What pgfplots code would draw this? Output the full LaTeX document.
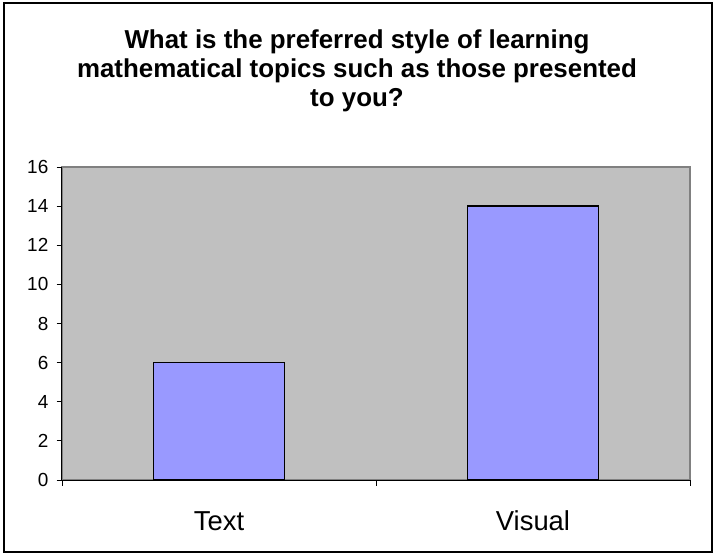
\documentclass[border=0pt]{standalone}
\usepackage{pgfplots}
\pgfplotsset{compat=1.18}
\usepackage{fontspec}
\setmainfont{Liberation Sans}
\definecolor{barblue}{HTML}{9999FF}
\definecolor{plotgray}{HTML}{C0C0C0}
\definecolor{edgegray}{HTML}{808080}
\begin{document}
\begin{tikzpicture}
\useasboundingbox (0,0) rectangle (716bp,556bp);
\draw[line width=2bp] (3.5bp,4bp) rectangle (712bp,552.5bp);
\node[font=\fontsize{26}{30}\selectfont\bfseries, anchor=base, inner sep=0pt] at (357bp,507bp) {What is the preferred style of learning};
\node[font=\fontsize{26}{30}\selectfont\bfseries, anchor=base, inner sep=0pt] at (357bp,478bp) {mathematical topics such as those presented};
\node[font=\fontsize{26}{30}\selectfont\bfseries, anchor=base, inner sep=0pt] at (357bp,449bp) {to you?};
\begin{axis}[
  at={(62bp,76bp)}, anchor=south west,
  scale only axis, width=628bp, height=313bp,
  xmin=0.5, xmax=2.5, ymin=0, ymax=16,
  ytick={0,2,...,16},
  xtick={0.5,1.5,2.5},
  xticklabels={Text,Visual},
  x tick label as interval,
  axis lines*=left,
  axis line style={-, line width=1bp, black},
  tick align=outside,
  major tick length=5.5bp,
  tick style={black, line width=0.8bp},
  axis background/.style={fill=plotgray, draw=edgegray, line width=1.2bp},
  /pgf/number format/assume math mode=true,
  y tick label style={font=\fontsize{19}{21}\selectfont, inner sep=0pt, xshift=-8bp},
  x tick label style={font=\fontsize{27.5}{30}\selectfont, inner sep=0pt, anchor=base, yshift=-44.5bp},
  clip=false,
]
\addplot[ybar, bar width=131bp, bar shift=0pt, fill=barblue, draw=black, line width=1.3bp] coordinates {(1,6) (2,14)};
\end{axis}
\end{tikzpicture}
\end{document}
